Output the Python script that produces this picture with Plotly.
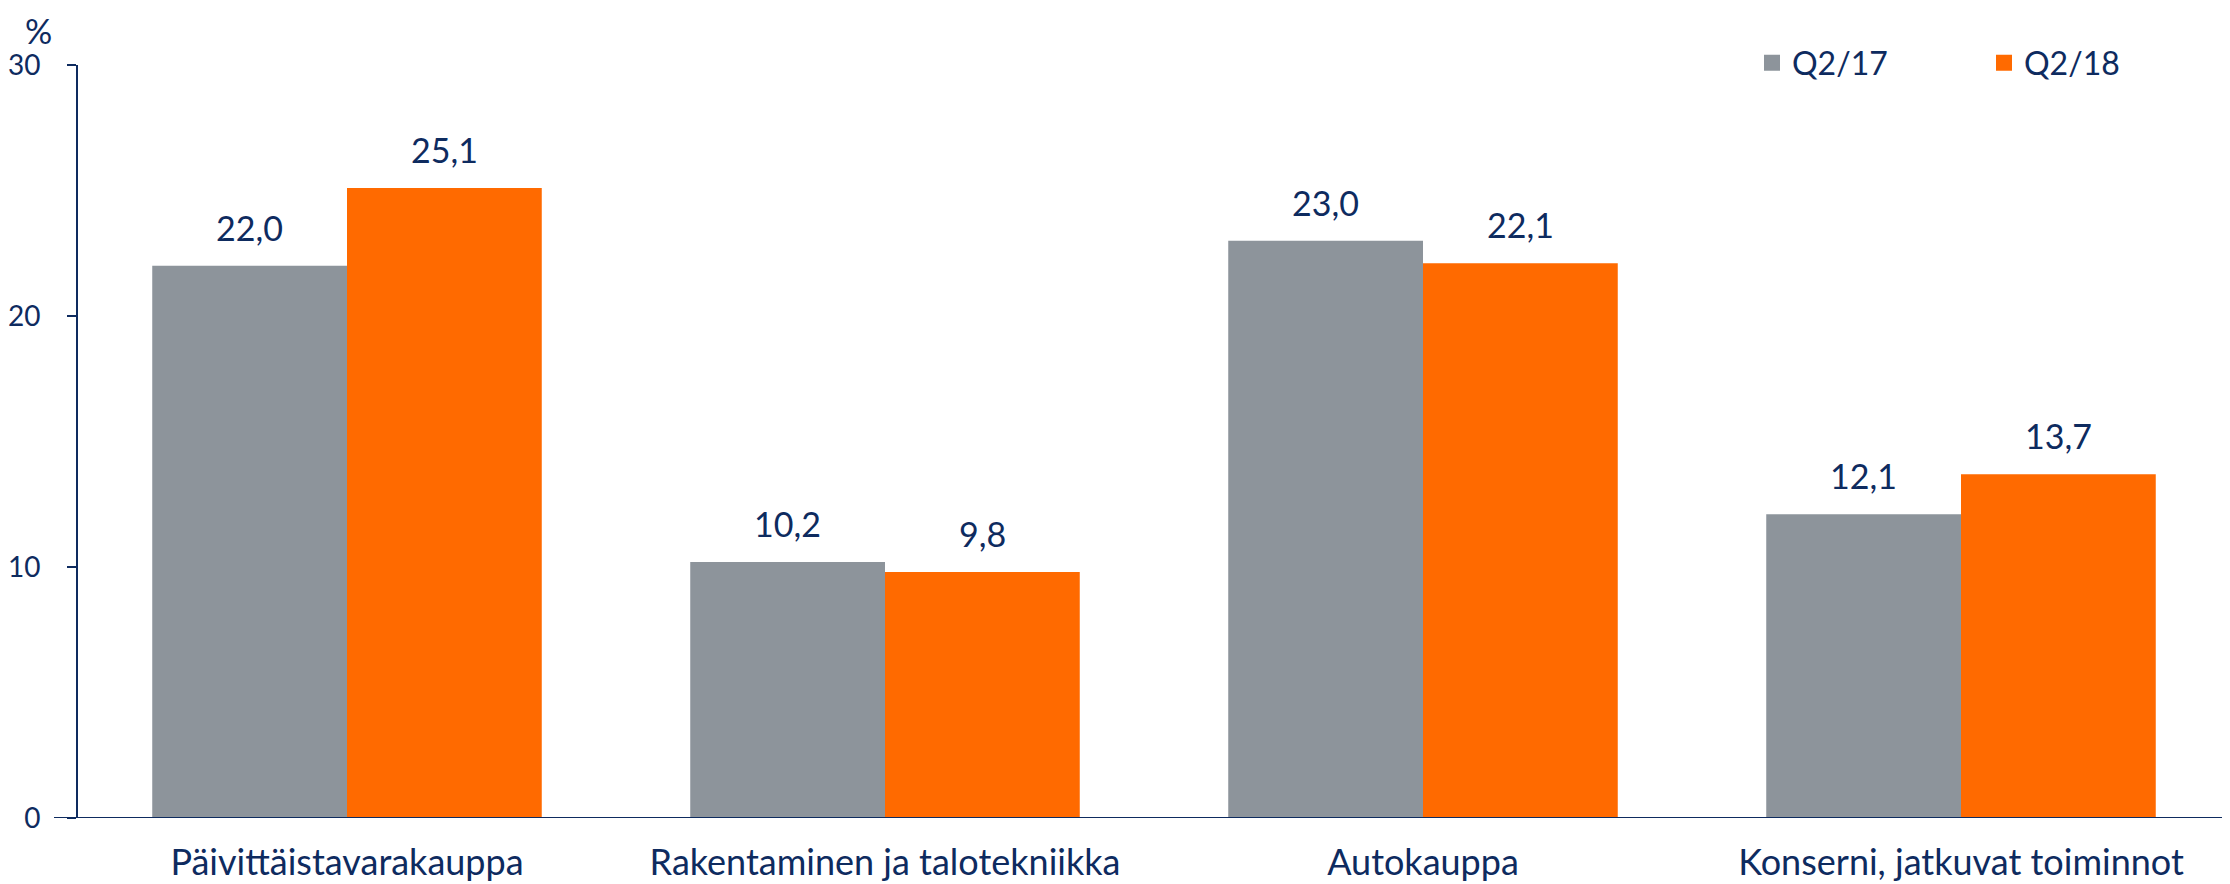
import plotly.graph_objects as go

categories = ["Päivittäistavarakauppa", "Rakentaminen ja talotekniikka", "Autokauppa", "Konserni, jatkuvat toiminnot"]
q2_17 = [22.0, 10.2, 23.0, 12.1]
q2_18 = [25.1, 9.8, 22.1, 13.7]
series_names = ["Q2/17", "Q2/18"]
y_ticks = [0, 10, 20, 30]

GRAY = "#8D949B"
ORANGE = "#FF6A00"
NAVY = "#0E2B5F"
FONT = "Lato"

OFF = 8  # page body margin
W, H = 2230 - OFF, 884 - OFF
ML, MR, MT, MB = 78 - OFF, 0, 65 - OFF, 66
PW, PH = W - ML - MR, H - MT - MB

def px_x(p):  # page x -> paper fraction
    return (p - OFF - ML) / PW

def px_y(p):  # page y -> paper fraction
    return (H - MB - (p - OFF)) / PH

def fmt(v):
    return f"{v:.1f}".replace(".", ",")

fig = go.Figure()
for name, vals, col in [(series_names[0], q2_17, GRAY), (series_names[1], q2_18, ORANGE)]:
    fig.add_trace(go.Bar(x=categories, y=vals, name=name, marker=dict(color=col, line=dict(width=0)),
                         showlegend=False, hoverinfo="skip"))
    fig.add_trace(go.Scatter(x=[None], y=[None], mode="markers", name=name,
                             marker=dict(symbol="square", size=20, color=col)))

bw = 0.362
annotations = []
for i in range(len(categories)):
    for vals, off in [(q2_17, -bw / 2), (q2_18, bw / 2)]:
        annotations.append(dict(x=i + off, y=vals[i], xref="x", yref="y", text=fmt(vals[i]),
                                showarrow=False, yanchor="bottom", yshift=16,
                                font=dict(family=FONT, size=34, color=NAVY)))
annotations.append(dict(x=px_x(38), y=px_y(9), xref="paper", yref="paper", text="%",
                        showarrow=False, xanchor="center", yanchor="top", borderpad=0,
                        font=dict(family=FONT, size=34, color=NAVY)))

fig.update_layout(
    width=W, height=H,
    margin=dict(l=ML, r=MR, t=MT, b=MB, autoexpand=False),
    paper_bgcolor="white", plot_bgcolor="white",
    barmode="group", bargap=0.276, bargroupgap=0,
    font=dict(family=FONT, color=NAVY),
    annotations=annotations,
    shapes=[dict(type="line", xref="paper", yref="y", x0=px_x(54), x1=1, y0=0, y1=0,
                 line=dict(color=NAVY, width=2))],
    legend=dict(orientation="h", xref="paper", yref="paper", x=px_x(1752), y=px_y(63),
                xanchor="left", yanchor="middle", font=dict(family=FONT, size=32, color=NAVY),
                entrywidth=187, entrywidthmode="pixels", bgcolor="rgba(0,0,0,0)"),
    xaxis=dict(range=[-0.5, 3.5], showline=False, showgrid=False, zeroline=False, ticks="",
               automargin=False,
               tickfont=dict(family=FONT, size=36, color=NAVY), ticklabelstandoff=20),
    yaxis=dict(range=[0, 30], tickvals=y_ticks, showline=True, linecolor=NAVY, linewidth=2,
               automargin=False,
               ticks="outside", ticklen=9, tickwidth=2, tickcolor=NAVY, showgrid=False, zeroline=False,
               tickfont=dict(family=FONT, size=28, color=NAVY), ticklabelstandoff=21),
)

fig.write_html("out.html")
